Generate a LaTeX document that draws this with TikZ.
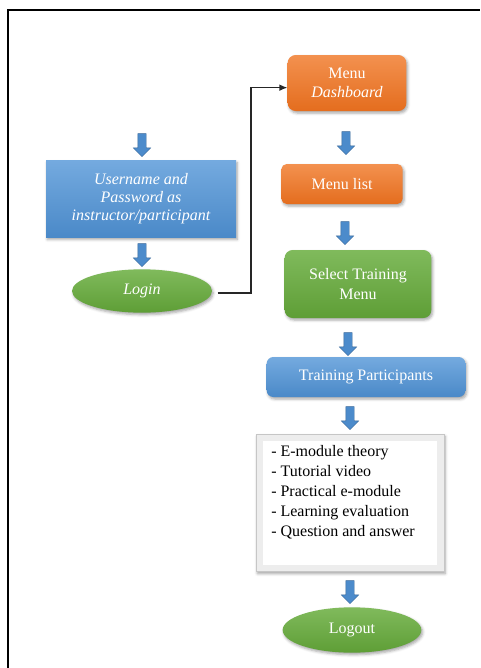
\documentclass[tikz,border=0pt]{standalone}
\usepackage{fontspec}
\setmainfont{Liberation Serif}
\usepackage{tikz}
\usetikzlibrary{arrows.meta,shapes.geometric,shapes.arrows,shadows.blur}

\definecolor{blueT}{HTML}{74AADF}
\definecolor{blueB}{HTML}{4A89C8}
\definecolor{orangeT}{HTML}{F3914F}
\definecolor{orangeB}{HTML}{E46D1E}
\definecolor{greenT}{HTML}{80BA5C}
\definecolor{greenB}{HTML}{5E9E36}
\definecolor{arrblue}{HTML}{4C8BCB}

\begin{document}
\begin{tikzpicture}[x=0.75pt,y=-0.75pt,>={Latex[length=6pt,width=5pt]}]
% — styles ––––––––––––––––––––––––––
\tikzstyle{txt}     =[font=\fontsize{12}{14.5}\selectfont,align=center,text=white,inner sep=2pt]
\tikzstyle{soft}    =[blur shadow={shadow xshift=1pt,shadow yshift=-1.5pt,shadow blur radius=2pt,shadow opacity=35}]
\tikzstyle{bluebox} =[txt,soft,rectangle,top color=blueT,bottom color=blueB]
\tikzstyle{orabox}  =[txt,soft,rectangle,top color=orangeT,bottom color=orangeB]
\tikzstyle{grnbox}  =[txt,soft,rectangle,top color=greenT,bottom color=greenB]
\tikzstyle{grnoval} =[txt,soft,ellipse,top color=greenT,bottom color=greenB]
\tikzstyle{downarr} =[single arrow,shape border rotate=270,fill=arrblue,draw=arrblue!75!black,
                      line width=0.3pt,inner sep=3pt,minimum height=17.25pt,minimum width=12.75pt,
                      single arrow head extend=3.4pt]
\tikzstyle{link}    =[line width=0.9pt,black!85]

\useasboundingbox (0,0) rectangle (480,668);

% --- outer frame ----------------------------------------------
\draw[line width=1.6pt] (8,668) -- (8,10) -- (480,10);

% --- left column ----------------------------------------------
\node[downarr] (ar1) at (142,143) {};
\node[bluebox,minimum width=142.5pt,minimum height=57.75pt,
      font=\fontsize{12}{13.5}\selectfont\itshape] (user) at (141,199)
      {Username and\\Password as\\instructor/participant};
\node[downarr] (ar2) at (142,253) {};
\node[grnoval,minimum width=105pt,minimum height=32.5pt,font=\fontsize{12}{14.5}\selectfont\itshape]
      (login) at (142,291) {Login};

% --- right column ---------------------------------------------
\node[orabox,rounded corners=6pt,minimum width=89pt,minimum height=42pt] (dash) at (347,83)
      {Menu\\\textit{Dashboard}};
\node[downarr] (ar3) at (346,141) {};
\node[orabox,rounded corners=4pt,minimum width=91pt,minimum height=30pt] (mlist) at (342,184) {Menu list};
\node[downarr] (ar4) at (345,231) {};
\node[grnbox,rounded corners=6pt,minimum width=110pt,minimum height=51pt] (select) at (358,284)
      {Select Training\\Menu};
\node[downarr] (ar5) at (348,342) {};
\node[bluebox,rounded corners=5pt,minimum width=149pt,minimum height=30pt] (parts) at (366,377)
      {Training Participants};
\node[downarr] (ar6) at (350,416) {};

% bevelled list box
\node[soft,rectangle,fill=gray!14,draw=gray!45,line width=0.5pt,minimum width=141pt,minimum height=103pt,
      path picture={\fill[white] ([shift={(5pt,-5pt)}]path picture bounding box.north west)
                    rectangle ([shift={(-5pt,5pt)}]path picture bounding box.south east);}]
      (items) at (350,503) {};
\node[font=\fontsize{12}{15}\selectfont,align=left,anchor=north west,inner sep=0pt] (itemtxt)
      at (271,445) {- E-module theory\\- Tutorial video\\- Practical e-module\\- Learning evaluation\\- Question and answer};

\node[downarr] (ar7) at (350,590) {};
\node[grnoval,minimum width=104pt,minimum height=34pt] (logout) at (352,630) {Logout};

% --- connector login -> dashboard -----------------------------
\coordinate (bend) at (251,293);
\draw[link,->] ([xshift=4pt,yshift=-1.5pt]login.east) -- (bend) |- ([yshift=-3.5pt]dash.west);

\end{tikzpicture}
\end{document}
